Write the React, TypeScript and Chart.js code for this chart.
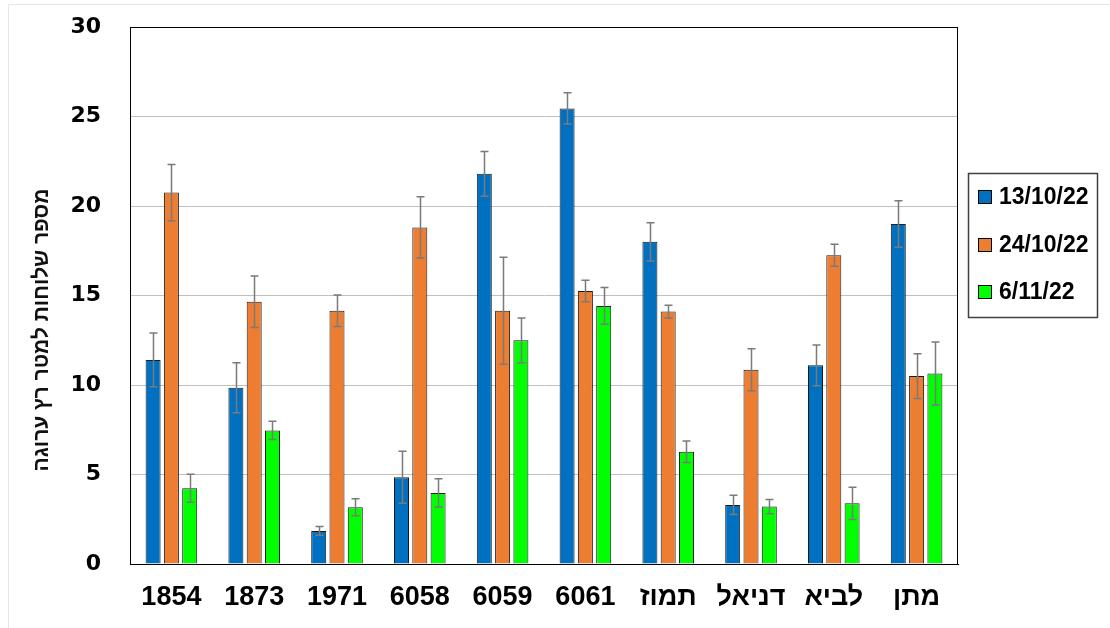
import { useEffect, useRef } from "react";
import { Chart, registerables } from "chart.js";

Chart.register(...registerables);

const categories = ["1854", "1873", "1971", "6058", "6059", "6061", "תמוז", "דניאל", "לביא", "מתן"];
const seriesLabels = ["13/10/22", "24/10/22", "6/11/22"];
const seriesColors = ["#0070C0", "#ED7D31", "#00FF00"];

const values1 = [11.4, 9.85, 1.85, 4.85, 21.8, 25.45, 18.0, 3.3, 11.1, 19.0];
const errors1 = [1.5, 1.4, 0.25, 1.45, 1.25, 0.87, 1.07, 0.54, 1.14, 1.3];
const values2 = [20.75, 14.65, 14.15, 18.8, 14.15, 15.25, 14.1, 10.85, 17.25, 10.5];
const errors2 = [1.57, 1.44, 0.88, 1.71, 2.99, 0.6, 0.36, 1.17, 0.61, 1.25];
const values3 = [4.23, 7.46, 3.17, 3.97, 12.5, 14.42, 6.27, 3.21, 3.39, 10.64];
const errors3 = [0.78, 0.51, 0.48, 0.79, 1.25, 1.03, 0.6, 0.4, 0.9, 1.76];

const yMin = 0;
const yMax = 30;
const yStep = 5;
const yTitle = "מספר שלוחות למטר רץ ערוגה";

export default function App() {
  const ref = useRef<HTMLCanvasElement>(null);

  useEffect(() => {
    const canvas = ref.current;
    if (!canvas) return;
    const allErrors = [errors1, errors2, errors3];

    const framePlugin = {
      id: "frame",
      afterDatasetsDraw(chart: any) {
        const { ctx, chartArea } = chart;
        ctx.save();
        ctx.strokeStyle = "#000";
        ctx.lineWidth = 1;
        ctx.strokeRect(
          Math.round(chartArea.left) + 0.5,
          Math.round(chartArea.top) + 0.5,
          Math.round(chartArea.right - chartArea.left) - 1,
          Math.round(chartArea.bottom - chartArea.top)
        );
        ctx.restore();
      },
    };

    const errorBarPlugin = {
      id: "errorBars",
      afterDatasetsDraw(chart: any) {
        const { ctx } = chart;
        const yScale = chart.scales.y;
        ctx.save();
        ctx.strokeStyle = "#7a7a7a";
        ctx.lineWidth = 1.5;
        chart.data.datasets.forEach((ds: any, di: number) => {
          const meta = chart.getDatasetMeta(di);
          meta.data.forEach((bar: any, i: number) => {
            const v = ds.data[i];
            const e = allErrors[di][i];
            const x = Math.round(bar.x) + 0.5;
            const yTop = yScale.getPixelForValue(v + e);
            const yBot = yScale.getPixelForValue(v - e);
            const cap = 4;
            ctx.beginPath();
            ctx.moveTo(x, yTop);
            ctx.lineTo(x, yBot);
            ctx.moveTo(x - cap, yTop);
            ctx.lineTo(x + cap, yTop);
            ctx.moveTo(x - cap, yBot);
            ctx.lineTo(x + cap, yBot);
            ctx.stroke();
          });
        });
        ctx.restore();
      },
    };

    const legendPlugin = {
      id: "boxLegend",
      afterDraw(chart: any) {
        const { ctx } = chart;
        ctx.save();
        ctx.strokeStyle = "#404040";
        ctx.lineWidth = 1.5;
        ctx.strokeRect(968.5, 173.5, 129, 144);
        const rows = [197, 245, 292];
        ctx.font = 'bold 23px "Liberation Sans", Arial, sans-serif';
        ctx.textAlign = "left";
        ctx.textBaseline = "middle";
        chart.data.datasets.forEach((ds: any, i: number) => {
          const y = rows[i];
          ctx.fillStyle = ds.backgroundColor;
          ctx.fillRect(978.5, y - 6.5, 13, 13);
          ctx.strokeStyle = "#000";
          ctx.lineWidth = 1;
          ctx.strokeRect(978.5, y - 6.5, 13, 13);
          ctx.fillStyle = "#000";
          ctx.fillText(ds.label, 999, y + 1);
        });
        ctx.restore();
      },
    };

    const yTitlePlugin = {
      id: "yTitle",
      afterDraw(chart: any) {
        const { ctx } = chart;
        ctx.save();
        ctx.translate(42, 330);
        ctx.rotate(-Math.PI / 2);
        ctx.font = 'bold 21px "Liberation Sans", Arial, sans-serif';
        ctx.textAlign = "center";
        ctx.textBaseline = "middle";
        ctx.fillStyle = "#111";
        ctx.fillText(yTitle, 0, 0);
        ctx.restore();
      },
    };

    const chart = new Chart(canvas, {
      type: "bar",
      data: {
        labels: categories,
        datasets: [values1, values2, values3].map((vals, i) => ({
          label: seriesLabels[i],
          data: vals,
          backgroundColor: seriesColors[i],
          borderColor: "#1a1a1a",
          borderWidth: 1,
          categoryPercentage: 0.663,
          barPercentage: 0.82,
        })),
      },
      options: {
        responsive: false,
        animation: false,
        devicePixelRatio: 1,
        layout: { padding: { left: 0, top: 27, right: 152, bottom: 0 } },
        plugins: {
          legend: { display: false },
          tooltip: { enabled: false },
          title: { display: false },
        },
        scales: {
          x: {
            grid: { display: false, drawTicks: false },
            border: { display: true, color: "#000", width: 1 },
            ticks: {
              color: "#000",
              padding: 17,
              font: { family: '"Liberation Sans", Arial, sans-serif', size: 27, weight: "bold" },
              maxRotation: 0,
              autoSkip: false,
            },
            afterFit(scale: any) {
              scale.height = 64;
            },
          },
          y: {
            min: yMin,
            max: yMax,
            grid: { color: "#c0c0c0", lineWidth: 1, drawTicks: false },
            border: { display: true, color: "#000", width: 1 },
            ticks: {
              stepSize: yStep,
              color: "#000",
              padding: 29,
              font: { family: '"DejaVu Sans", Verdana, sans-serif', size: 22, weight: "bold" },
            },
            afterFit(scale: any) {
              scale.width = 130;
              scale.paddingTop = 14;
              scale.paddingBottom = 14;
            },
          },
        },
      },
      plugins: [errorBarPlugin, framePlugin, legendPlugin, yTitlePlugin],
    } as any);

    return () => chart.destroy();
  }, []);

  return (
    <div
      style={{
        position: "fixed",
        left: 0,
        top: 0,
        width: 1110,
        height: 628,
        background: "#fff",
        overflow: "hidden",
      }}
    >
      <div
        style={{
          position: "absolute",
          left: 8,
          top: 4,
          width: 1110,
          height: 640,
          border: "1px solid #e6e6e6",
          boxSizing: "border-box",
        }}
      />
      <canvas
        ref={ref}
        width={1110}
        height={628}
        style={{ position: "absolute", left: 0, top: 0, width: 1110, height: 628 }}
      />
    </div>
  );
}
